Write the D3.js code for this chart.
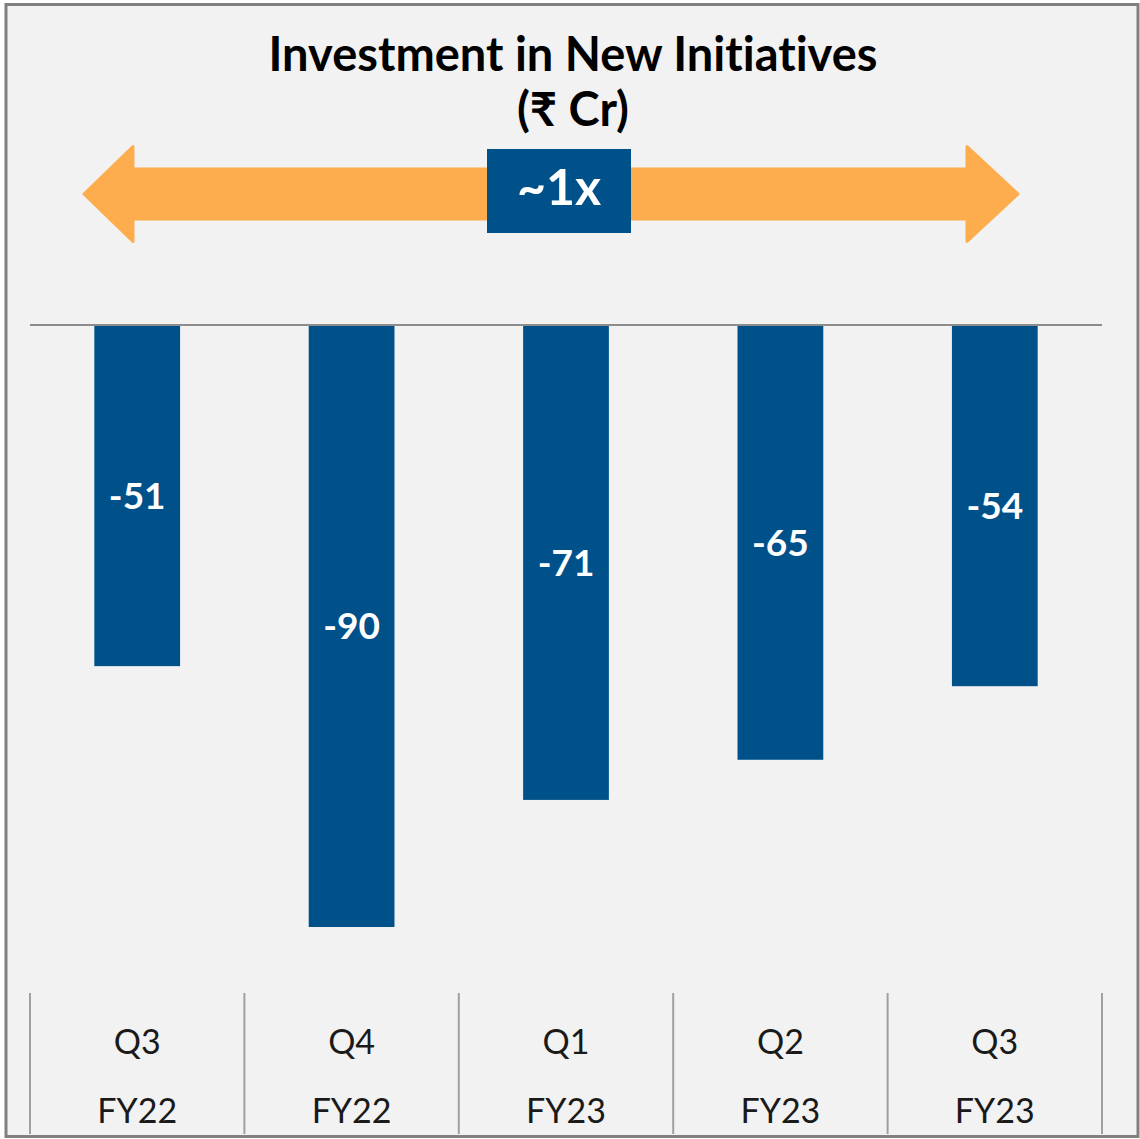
<!DOCTYPE html>
<html><head><meta charset="utf-8">
<script src="https://cdn.jsdelivr.net/npm/d3@7"></script>
<style>
html,body{margin:0;padding:0;background:#fff;}
svg{display:block;}
text{font-variant-ligatures:none;font-feature-settings:"liga" 0;}
</style></head>
<body>
<svg id="chart" width="1140" height="1139"></svg>
<script>
const quarters = ["Q3","Q4","Q1","Q2","Q3"];
const fiscalYears = ["FY22","FY22","FY23","FY23","FY23"];
const values = [-51,-90,-71,-65,-54];
const titleLines = ["Investment in New Initiatives","(₹ Cr)"];
const growthLabel = "~1x";

const svg = d3.select("#chart");
const blue = "#00518A", orange = "#FDAD4D";
const font = "Lato, 'Noto Sans', sans-serif";

svg.append("rect").attr("x",6).attr("y",4.5).attr("width",1132).attr("height",1132)
  .attr("fill","#F2F2F2").attr("stroke","#808080").attr("stroke-width",3);

// title
const title = svg.append("text").attr("text-anchor","middle")
  .attr("font-family",font).attr("font-weight","bold")
  .attr("font-size",47).attr("fill","#000");
title.append("tspan").attr("x",573).attr("y",71).text(titleLines[0]);
title.append("tspan").attr("x",573).attr("y",126).text(titleLines[1]);

// arrow
const aY = 194, shaftH = 50, headH = 95;
const arrow = [[84,aY],[133,aY-headH/2],[133,aY-shaftH/2],[967,aY-shaftH/2],[967,aY-headH/2],[1018,aY],
  [967,aY+headH/2],[967,aY+shaftH/2],[133,aY+shaftH/2],[133,aY+headH/2]];
svg.append("path").attr("d", d3.line()(arrow)+"Z").attr("fill",orange)
  .attr("stroke",orange).attr("stroke-width",3).attr("stroke-linejoin","round");
svg.append("rect").attr("x",487).attr("y",149).attr("width",144).attr("height",84).attr("fill",blue);
svg.append("text").attr("x",559).attr("y",205).attr("text-anchor","middle")
  .attr("font-family",font).attr("font-weight","bold")
  .attr("font-size",50).attr("fill","#fff").text(growthLabel);

// scales
const x = d3.scaleBand().domain(d3.range(values.length)).range([30,1102]).paddingInner(0.6).paddingOuter(0.3);
const y = d3.scaleLinear().domain([-90,0]).range([927,325]);

svg.selectAll("rect.bar").data(values).join("rect").attr("class","bar")
  .attr("x",(d,i)=>x(i)).attr("width",x.bandwidth())
  .attr("y",y(0)).attr("height",d=>y(d)-y(0)).attr("fill",blue);

svg.append("line").attr("x1",30).attr("x2",1102).attr("y1",y(0)).attr("y2",y(0))
  .attr("stroke","#8C8C8C").attr("stroke-width",2);

svg.selectAll("text.val").data(values).join("text").attr("class","val")
  .attr("x",(d,i)=>x(i)+x.bandwidth()/2).attr("y",d=>(y(0)+y(d))/2)
  .attr("dy","0.36em").attr("text-anchor","middle")
  .attr("font-family",font).attr("font-weight","bold")
  .attr("font-size",37).attr("fill","#fff").text(d=>d);

// category axis with dividers
const gap = x.step()-x.bandwidth();
const bounds = d3.range(values.length+1).map(i=> i===0 ? 30 : (i===values.length ? 1102 : x(i) - gap/2));
svg.selectAll("line.div").data(bounds).join("line").attr("class","div")
  .attr("x1",d=>d).attr("x2",d=>d).attr("y1",993).attr("y2",1134)
  .attr("stroke","#A0A0A0").attr("stroke-width",2);

svg.selectAll("text.q").data(quarters).join("text").attr("class","q")
  .attr("x",(d,i)=>x(i)+x.bandwidth()/2).attr("y",1054).attr("text-anchor","middle")
  .attr("font-family",font).attr("font-size",34).attr("fill","#1a1a1a").text(d=>d);
svg.selectAll("text.fy").data(fiscalYears).join("text").attr("class","fy")
  .attr("x",(d,i)=>x(i)+x.bandwidth()/2).attr("y",1123).attr("text-anchor","middle")
  .attr("font-family",font).attr("font-size",34).attr("fill","#1a1a1a").text(d=>d);
</script>
</body></html>
